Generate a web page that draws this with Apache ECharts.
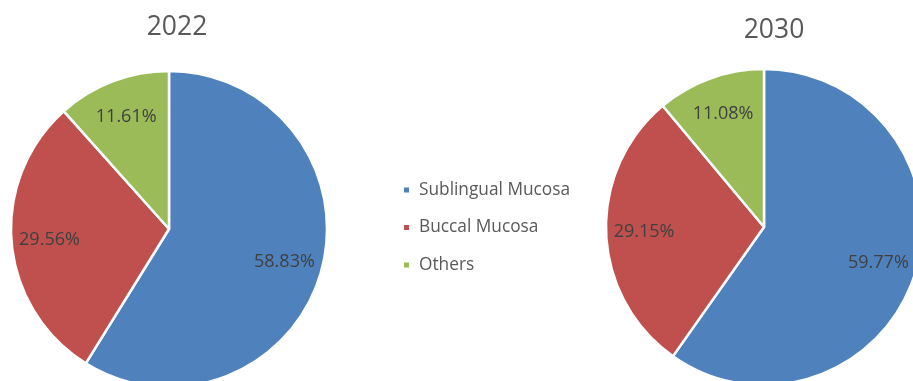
<!DOCTYPE html>
<html>
<head>
<meta charset="utf-8">
<script src="https://cdn.jsdelivr.net/npm/echarts@6/dist/echarts.min.js"></script>
<style>html,body{margin:0;padding:0;background:#fff;}#c{width:913px;height:381px;}</style>
</head>
<body>
<div id="c"></div>
<script>
const categories = ['Sublingual Mucosa', 'Buccal Mucosa', 'Others'];
const years = ['2022', '2030'];
const values2022 = [58.83, 29.56, 11.61];
const values2030 = [59.77, 29.15, 11.08];
const colors = ['#4F81BD', '#C0504D', '#9BBB59'];

const FONT = '"Open Sans", "Noto Sans", sans-serif';
const R = 158;
const LABEL_R = 117;
const centers = [[169, 229], [764, 227]];
const allValues = [values2022, values2030];

const series = [];
allValues.forEach((vals, i) => {
  series.push({
    type: 'pie',
    center: centers[i],
    radius: [0, R],
    startAngle: 90,
    clockwise: true,
    silent: true,
    label: { show: false },
    labelLine: { show: false },
    itemStyle: { borderColor: '#ffffff', borderWidth: 2.5 },
    data: categories.map((c, k) => ({ name: c, value: vals[k], itemStyle: { color: colors[k] } }))
  });
});
allValues.forEach((vals, i) => {
  series.push({
    type: 'pie',
    center: centers[i],
    radius: [2 * LABEL_R - R, R],
    startAngle: 90,
    clockwise: true,
    silent: true,
    legendHoverLink: false,
    z: 5,
    label: {
      show: true,
      position: 'inside',
      formatter: p => p.value.toFixed(2) + '%',
      color: '#404040',
      fontFamily: FONT,
      fontSize: 18
    },
    labelLine: { show: false },
    itemStyle: { color: 'rgba(0,0,0,0)', borderWidth: 0 },
    data: categories.map((c, k) => ({ name: c, value: vals[k] }))
  });
});

const chart = echarts.init(document.getElementById('c'), null, { renderer: 'canvas' });
chart.setOption({
  animation: false,
  backgroundColor: '#ffffff',
  color: colors,
  title: [
    { text: years[0], left: 172, top: 22.5, textAlign: 'center', textVerticalAlign: 'middle',
      textStyle: { fontFamily: FONT, fontSize: 26.5, fontWeight: 'normal', color: '#595959' } },
    { text: years[1], left: 769, top: 25, textAlign: 'center', textVerticalAlign: 'middle',
      textStyle: { fontFamily: FONT, fontSize: 26.5, fontWeight: 'normal', color: '#595959' } }
  ],
  legend: {
    orient: 'vertical',
    left: 397,
    top: 174.5,
    itemWidth: 7,
    itemHeight: 7,
    itemGap: 16.5,
    icon: 'rect',
    data: categories.map((c, k) => ({ name: c, itemStyle: { color: colors[k] } })),
    textStyle: { fontFamily: FONT, fontSize: 17.3, color: '#595959', lineHeight: 21, padding: [0, 0, 0, 4] }
  },
  series: series
});
</script>
</body>
</html>
